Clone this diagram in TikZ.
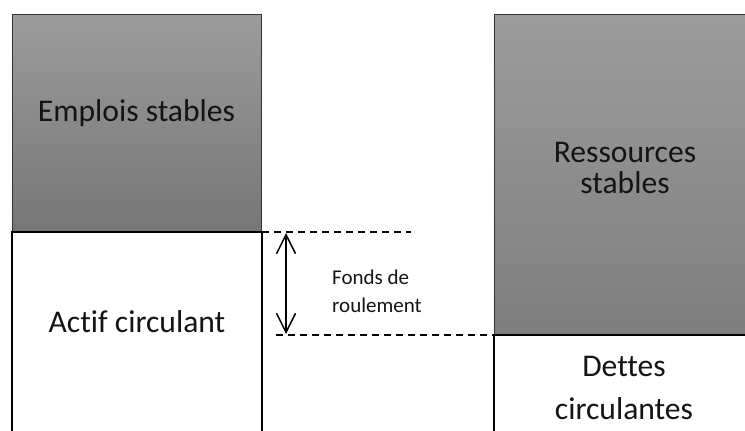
\documentclass[tikz,border=0pt]{standalone}
\usepackage{fontspec}
\setmainfont{Carlito}[Ligatures=NoCommon]
\usetikzlibrary{arrows.meta}
\definecolor{grtop}{RGB}{156,156,156}
\definecolor{grbotL}{RGB}{118,118,118}
\definecolor{grbotR}{RGB}{126,126,126}
\definecolor{edgegray}{RGB}{50,50,50}
\definecolor{ink}{RGB}{20,20,20}
\begin{document}
\begin{tikzpicture}[x=1pt,y=-1pt,
  stablebox/.style={draw=edgegray, line width=0.8pt, top color=grtop, anchor=north west, inner sep=0pt, outer sep=0pt},
  currentbox/.style={draw=black, line width=2pt, fill=white, anchor=north west, inner sep=0pt, outer sep=0pt},
  bigtext/.style={font=\fontsize{31.6}{38}\selectfont, text=ink, anchor=base, inner sep=0pt},
  smalltext/.style={font=\fontsize{21}{28}\selectfont, text=ink, anchor=base west, inner sep=0pt},
  guide/.style={dash pattern=on 7pt off 5pt, line width=1.2pt},
  gap/.style={{Straight Barb[length=19pt,width=19pt]}-{Straight Barb[length=19pt,width=19pt]}, line width=1.5pt}
]
\useasboundingbox (0,0) rectangle (745,431);
\clip (0,0) rectangle (745,431);

% balance sheet, assets side
\node[stablebox, bottom color=grbotL, minimum width=249pt, minimum height=218pt] (emplois) at (12,14) {};
\node[currentbox, minimum width=250pt, minimum height=220pt] (actif) at (12,232) {};

% balance sheet, liabilities side
\node[stablebox, bottom color=grbotR, minimum width=262pt, minimum height=321pt] (ressources) at (494,14) {};
\node[currentbox, minimum width=262pt, minimum height=120pt] (dettes) at (494,335) {};

% labels
\node[bigtext] (lemplois) at (136.5,121) {Emplois stables};
\node[bigtext] (lactif) at (137,332) {Actif circulant};
\node[bigtext] (lres1) at (625,162) {Ressources};
\node[bigtext] (lres2) at (625,193) {stables};
\node[bigtext] (ldet1) at (624,376.5) {Dettes};
\node[bigtext] (ldet2) at (624,419) {circulantes};

% working capital gap
\coordinate (topend) at (411,232);
\coordinate (botstart) at (276,335);
\draw[guide] (actif.north east) -- (topend);
\draw[guide] (botstart) -- (dettes.north west);
\coordinate (atop) at (286,233);
\coordinate (abot) at (286,334);
\draw[gap] (atop) -- (abot);
\node[smalltext] (lfonds1) at (332,284) {Fonds de};
\node[smalltext] (lfonds2) at (332,312) {roulement};
\end{tikzpicture}
\end{document}
